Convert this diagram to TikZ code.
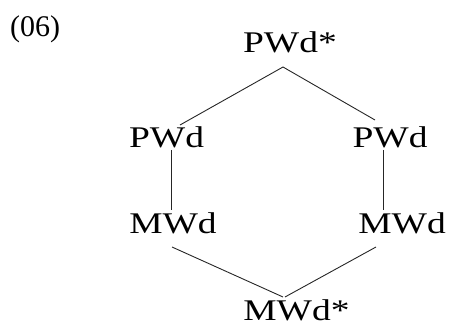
\documentclass[tikz,border=0pt]{standalone}
\usepackage{fontspec}
\setmainfont{Liberation Serif}
\newfontfamily\widefont[FakeStretch=1.25]{Liberation Serif}
\begin{document}
\begin{tikzpicture}[x=1pt,y=-1pt,
  lbl/.style={anchor=base,inner sep=0pt,font=\widefont\fontsize{30}{36}\selectfont},
  num/.style={anchor=base west,inner sep=0pt,font=\fontsize{30}{36}\selectfont},
  edge/.style={line width=0.9pt,draw=black!85}]
\useasboundingbox (0,0) rectangle (449,323);
\node[num] (ex) at (10,37) {(06)};
\node[lbl] (top) at (290,53) {PWd*};
\node[lbl] (pl) at (166.5,147) {PWd};
\node[lbl] (pr) at (390,147) {PWd};
\node[lbl] (ml) at (173,233) {MWd};
\node[lbl] (mr) at (402,233) {MWd};
\node[lbl] (bot) at (296.5,320.5) {MWd*};
% attachment points of the branches
\coordinate (topJ) at (283,67);
\coordinate (plJ) at (180,125);
\coordinate (prJ) at (375,120);
\coordinate (plB) at (171,150);
\coordinate (mlT) at (171,210);
\coordinate (prB) at (383,150);
\coordinate (mrT) at (383,210);
\coordinate (mlB) at (172,247);
\coordinate (mrB) at (376,247);
\coordinate (botL) at (283,297);
\coordinate (botR) at (285,297);
\draw[edge] (plJ) -- (topJ) -- (prJ);
\draw[edge] (plB) -- (mlT);
\draw[edge] (prB) -- (mrT);
\draw[edge] (mlB) -- (botL);
\draw[edge] (mrB) -- (botR);
\end{tikzpicture}
\end{document}
